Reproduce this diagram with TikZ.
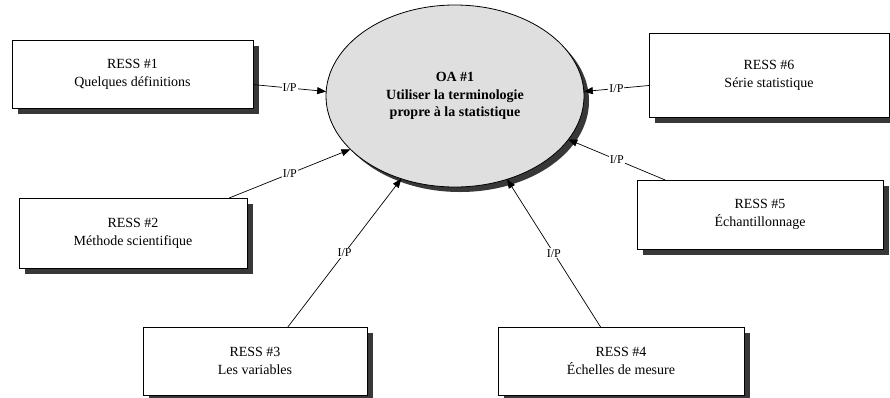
\documentclass[tikz,border=0pt]{standalone}
\usepackage{fontspec}
\setmainfont{Liberation Serif}
\usetikzlibrary{arrows.meta,shapes.geometric}
\definecolor{goalfill}{HTML}{DFDFDF}
\colorlet{shadowgray}{black!78}
% a box with its drop shadow: name, x, y, width, height, text
\newcommand{\ressbox}[6]{%
  \fill[shadowgray] ({#2-#4/2+6},{#3-#5/2+6}) rectangle ({#2+#4/2+6},{#3+#5/2+6});
  \node[ress, minimum width=#4pt, minimum height=#5pt] (#1) at (#2,#3) {#6};}
\begin{document}
\begin{tikzpicture}[x=1pt,y=-1pt,
  ress/.style={draw=black, line width=0.8pt, fill=white, rectangle, outer sep=0pt,
    inner sep=0pt, align=center, font=\fontsize{14}{18}\selectfont},
  goal/.style={draw=black, line width=0.8pt, fill=goalfill, ellipse, outer sep=0pt,
    inner sep=0pt, align=center, font=\fontsize{14}{17.5}\selectfont\bfseries,
    minimum width=258pt, minimum height=182pt},
  link/.style={line width=0.7pt, -{Triangle[length=9pt,width=7pt]}},
  lbl/.style={fill=white, inner sep=1pt, font=\fontsize{12}{14}\selectfont}]
\useasboundingbox (0,0) rectangle (890,397);

% central objective with its shadow
\fill[shadowgray] (460,101) ellipse [x radius=129, y radius=91];
\node[goal] (oa) at (455,96) {OA \#1\\Utiliser la terminologie\\ propre à la statistique};

% resource boxes
\ressbox{r1}{132.5}{74}{241}{68}{RESS \#1\\Quelques définitions}
\ressbox{r2}{133}{233}{228}{70}{RESS \#2\\Méthode scientifique}
\ressbox{r3}{255}{361}{224}{68}{RESS \#3\\Les variables}
\ressbox{r4}{621}{361}{246}{68}{RESS \#4\\Échelles de mesure}
\ressbox{r5}{760}{214.5}{246}{69}{RESS \#5\\Échantillonnage}
\ressbox{r6}{769}{75}{240}{84}{RESS \#6\\Série statistique}

% I/P connectors
\draw[link] (r1.-5.7)  -- node[lbl] {I/P} (oa.178.2);
\draw[link] (r2.20.4)  -- node[lbl] {I/P} (oa.207);
\draw[link] (r3.46.7)  -- node[lbl] {I/P} (oa.237.4);
\draw[link] (r4.121.7) -- node[lbl] {I/P} (oa.302.6);
\draw[link] (r5.160.4) -- node[lbl] {I/P} (oa.339.3);
\draw[link] (r6.185.7) -- node[lbl] {I/P} (oa.2.5);
\end{tikzpicture}
\end{document}
